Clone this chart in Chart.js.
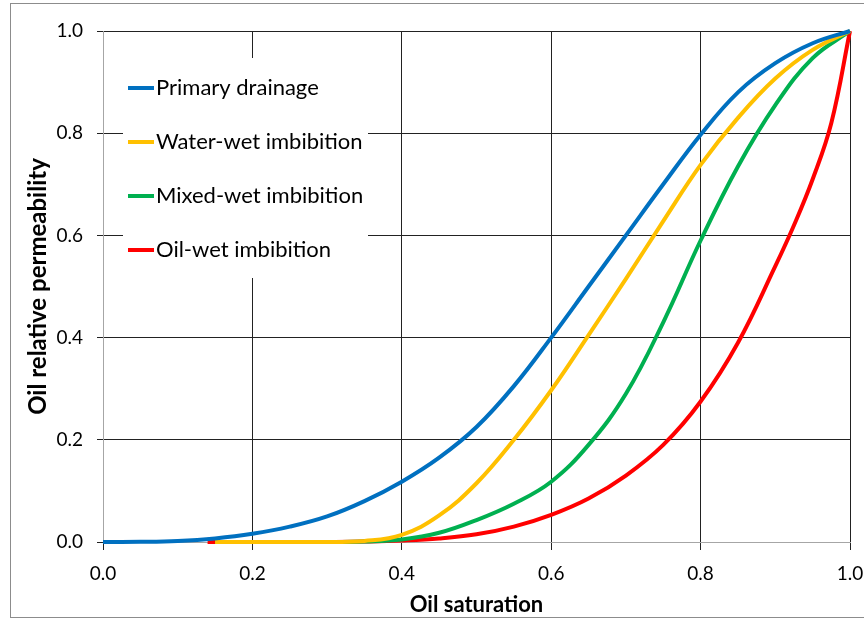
<!DOCTYPE html>
<html>
<head>
<meta charset="utf-8">
<script src="https://cdn.jsdelivr.net/npm/chart.js@4/dist/chart.umd.min.js"></script>
<style>
  body { margin: 0; background: #fff; }
  #wrap { width: 864px; height: 620px; position: relative; }
</style>
</head>
<body>
<div id="wrap"><canvas id="chartRelPerm" width="864" height="620"></canvas></div>
<script>
// Oil relative permeability vs oil saturation
const seriesNames = ['Primary drainage', 'Water-wet imbibition', 'Mixed-wet imbibition', 'Oil-wet imbibition'];
const seriesColors = ['#0070C0', '#FFC000', '#00B050', '#FF0000'];
const axisTicks = [0, 0.2, 0.4, 0.6, 0.8, 1.0];

const sPrimary = [0, 0.05, 0.1, 0.15, 0.2, 0.25, 0.3, 0.35, 0.4, 0.45, 0.5, 0.55, 0.6, 0.65, 0.7, 0.75, 0.8, 0.85, 0.9, 0.95, 1.0];
const krPrimary = [0, 0.0003, 0.002, 0.007, 0.016, 0.03, 0.05, 0.08, 0.118, 0.165, 0.225, 0.305, 0.4, 0.5, 0.6, 0.7, 0.797, 0.88, 0.937, 0.976, 1.0];

const sWater = [0.15, 0.3, 0.35, 0.4, 0.45, 0.5, 0.55, 0.6, 0.65, 0.7, 0.75, 0.8, 0.85, 0.9, 0.95, 1.0];
const krWater = [0, 0, 0.002, 0.014, 0.052, 0.115, 0.2, 0.297, 0.405, 0.515, 0.628, 0.738, 0.83, 0.907, 0.963, 1.0];

const sMixed = [0.15, 0.3, 0.35, 0.4, 0.45, 0.5, 0.55, 0.6, 0.65, 0.7, 0.75, 0.8, 0.85, 0.9, 0.95, 1.0];
const krMixed = [0, 0, 0.001, 0.005, 0.018, 0.043, 0.075, 0.118, 0.19, 0.29, 0.43, 0.59, 0.735, 0.855, 0.947, 1.0];

const sOil = [0.14, 0.3, 0.35, 0.4, 0.45, 0.5, 0.55, 0.6, 0.65, 0.7, 0.75, 0.8, 0.85, 0.9, 0.925, 0.95, 0.975, 1.0];
const krOil = [0, 0, 0.001, 0.003, 0.007, 0.015, 0.03, 0.053, 0.085, 0.13, 0.19, 0.275, 0.39, 0.54, 0.62, 0.71, 0.82, 1.0];

const FONT = 'Lato, "Open Sans", sans-serif';

function toPoints(xs, ys) {
    return xs.map((x, i) => ({ x, y: ys[i] }));
}

// grey frame around the whole picture
const framePlugin = {
    id: 'frame',
    afterDraw(chart) {
        const ctx = chart.ctx;
        ctx.save();
        ctx.strokeStyle = '#8c8c8c';
        ctx.lineWidth = 1;
        ctx.strokeRect(10.5, 3.5, 870, 614);
        ctx.restore();
    }
};

// boxed legend sitting inside the plot, top-left
const insetLegend = {
    id: 'insetLegend',
    afterDatasetsDraw(chart) {
        const ctx = chart.ctx;
        const box = { x: 123, y: 58, w: 245, h: 220 };
        ctx.save();
        ctx.fillStyle = '#fff';
        ctx.fillRect(box.x, box.y, box.w, box.h);
        ctx.font = '22px ' + FONT;
        ctx.textBaseline = 'middle';
        chart.data.datasets.forEach((ds, i) => {
            const y = 88 + i * 54;
            ctx.strokeStyle = ds.borderColor;
            ctx.lineWidth = 4;
            ctx.beginPath();
            ctx.moveTo(128, y);
            ctx.lineTo(154, y);
            ctx.stroke();
            ctx.fillStyle = '#000';
            ctx.fillText(ds.label, 156, y);
        });
        ctx.restore();
    }
};

function createRelPermChart(canvasId) {
    const canvas = document.getElementById(canvasId);
    if (!canvas) return;
    const ctx = canvas.getContext('2d');

    const pairs = [[sPrimary, krPrimary], [sWater, krWater], [sMixed, krMixed], [sOil, krOil]];

    return new Chart(ctx, {
        type: 'line',
        data: {
            datasets: pairs.map((p, i) => ({
                label: seriesNames[i],
                data: toPoints(p[0], p[1]),
                borderColor: seriesColors[i],
                backgroundColor: seriesColors[i],
                borderWidth: 4,
                pointRadius: 0,
                tension: 0.4,
                clip: false
            }))
        },
        options: {
            responsive: false,
            animation: false,
            layout: { padding: { left: 0, top: 31, right: 14, bottom: 0 } },
            plugins: {
                legend: { display: false },
                tooltip: { enabled: false }
            },
            scales: {
                x: {
                    type: 'linear',
                    min: 0,
                    max: 1,
                    afterBuildTicks: s => { s.ticks = axisTicks.map(v => ({ value: v })); },
                    afterFit: s => { s.height = 78; s.paddingLeft = 0; s.paddingRight = 0; },
                    ticks: {
                        color: '#000',
                        padding: 12,
                        maxRotation: 0,
                        font: { family: FONT, size: 19 },
                        callback: v => Number(v).toFixed(1)
                    },
                    grid: { color: '#222', lineWidth: 1, tickLength: 8 },
                    border: { color: '#a6a6a6', width: 1 },
                    title: {
                        display: true,
                        text: 'Oil saturation',
                        color: '#000',
                        font: { family: FONT, size: 22, weight: 'bold' },
                        padding: { top: 0, bottom: 2 }
                    }
                },
                y: {
                    type: 'linear',
                    min: 0,
                    max: 1,
                    afterBuildTicks: s => { s.ticks = axisTicks.map(v => ({ value: v })); },
                    afterFit: s => { s.width = 103; s.paddingTop = 0; s.paddingBottom = 0; },
                    ticks: {
                        color: '#000',
                        padding: 14,
                        font: { family: FONT, size: 19 },
                        callback: v => Number(v).toFixed(1)
                    },
                    grid: { color: '#222', lineWidth: 1, tickLength: 6 },
                    border: { color: '#a6a6a6', width: 1 },
                    title: {
                        display: true,
                        text: 'Oil relative permeability',
                        color: '#000',
                        font: { family: FONT, size: 24, weight: 'bold' },
                        padding: { top: 24, bottom: 0 }
                    }
                }
            }
        },
        plugins: [insetLegend, framePlugin]
    });
}

createRelPermChart('chartRelPerm');
</script>
</body>
</html>
